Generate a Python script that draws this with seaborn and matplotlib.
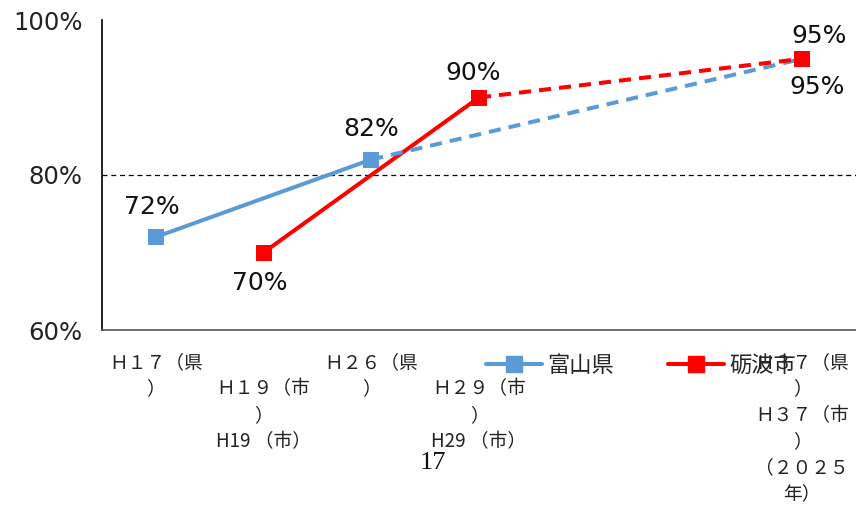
import matplotlib
matplotlib.use("Agg")
import matplotlib.pyplot as plt
from matplotlib.lines import Line2D
import seaborn as sns
import pandas as pd

sns.set_theme(style="white")
plt.rcParams['font.family'] = ['Noto Sans CJK JP', 'DejaVu Sans']

categories = [
    "Ｈ１７（県\n）",
    "\nＨ１９（市\n）\nH19 （市）",
    "Ｈ２６（県\n）",
    "\nＨ２９（市\n）\nH29 （市）",
    "",
    "",
    "Ｈ３７（県\n）\nＨ３７（市\n）\n（２０２５\n年）",
]
pref_name = "富山県"
city_name = "砺波市"
pref_x = [0, 2, 6]
pref_vals = [72, 82, 95]
city_x = [1, 3, 6]
city_vals = [70, 90, 95]
yticks = [60, 80, 100]
ytick_labels = ["60%", "80%", "100%"]

blue = "#5B9BD5"
red = "#FF0000"

fig = plt.figure(figsize=(8.56, 5.09), dpi=100)
ax = fig.add_axes([102/856, 1-330/509, 1-102/856, 310/509])

pref_df = pd.DataFrame({"x": pref_x, "v": pref_vals})
city_df = pd.DataFrame({"x": city_x, "v": city_vals})

lw = 2.9
ms = 12
# solid segments
sns.lineplot(data=pref_df.iloc[:2], x="x", y="v", ax=ax, color=blue, lw=lw, zorder=3)
sns.lineplot(data=city_df.iloc[:2], x="x", y="v", ax=ax, color=red, lw=lw, zorder=3)
# dashed projections
sns.lineplot(data=pref_df.iloc[1:], x="x", y="v", ax=ax, color=blue, lw=lw, zorder=3,
             linestyle=(0, (3, 2)))
sns.lineplot(data=city_df.iloc[1:], x="x", y="v", ax=ax, color=red, lw=lw, zorder=4,
             linestyle=(0, (3, 2)))
# markers
sns.scatterplot(data=pref_df, x="x", y="v", ax=ax, color=blue, marker="s", s=ms**2,
                linewidth=0, zorder=5)
sns.scatterplot(data=city_df, x="x", y="v", ax=ax, color=red, marker="s", s=ms**2,
                linewidth=0, zorder=6)

ax.axhline(80, color="black", lw=0.9, linestyle=(0, (4, 3)), zorder=1)

ax.set_xlim(-0.5, 6.5)
ax.set_ylim(60, 100)
ax.set_xticks(range(len(categories)))
ax.set_xticklabels(categories, fontsize=13.5, color="#222222", linespacing=1.33)
ax.set_yticks(yticks)
ax.set_yticklabels(ytick_labels, fontsize=17.5, color="#222222",
                   family=['DejaVu Sans'])
ax.tick_params(axis="both", length=0)
ax.tick_params(axis="y", pad=14)
ax.tick_params(axis="x", pad=16)
ax.set_xlabel("")
ax.set_ylabel("")
for s in ["top", "right"]:
    ax.spines[s].set_visible(False)
ax.spines["left"].set_color("black")
ax.spines["left"].set_linewidth(1.2)
ax.spines["bottom"].set_color("#555555")
ax.spines["bottom"].set_linewidth(1.2)

lab_kw = dict(textcoords="offset pixels", ha="center", va="center", fontsize=18,
              color="#111111", family=['DejaVu Sans'])
ax.annotate("72%", (0, 72), xytext=(-4, 30), **lab_kw)
ax.annotate("82%", (2, 82), xytext=(0, 31), **lab_kw)
ax.annotate("95%", (6, 95), xytext=(15, -28), **lab_kw)
ax.annotate("70%", (1, 70), xytext=(-4, -30), **lab_kw)
ax.annotate("90%", (3, 90), xytext=(-6, 25), **lab_kw)
ax.annotate("95%", (6, 95), xytext=(17, 23), **lab_kw)

handles = [
    Line2D([], [], color=blue, lw=lw, marker="s", markersize=ms, label=pref_name),
    Line2D([], [], color=red, lw=lw, marker="s", markersize=ms, label=city_name),
]
fig.legend(handles=handles, loc="center left", bbox_to_anchor=(486/856, 1-365/509),
           ncol=2, frameon=False, fontsize=16, handlelength=2.5, handletextpad=0.25,
           columnspacing=2.45, borderpad=0, borderaxespad=0)

fig.text(433/856, 1-463/509, "17", ha="center", va="center", fontsize=19,
         family=['Liberation Serif'], color="#111111")

fig.savefig("out.png", dpi=100)
